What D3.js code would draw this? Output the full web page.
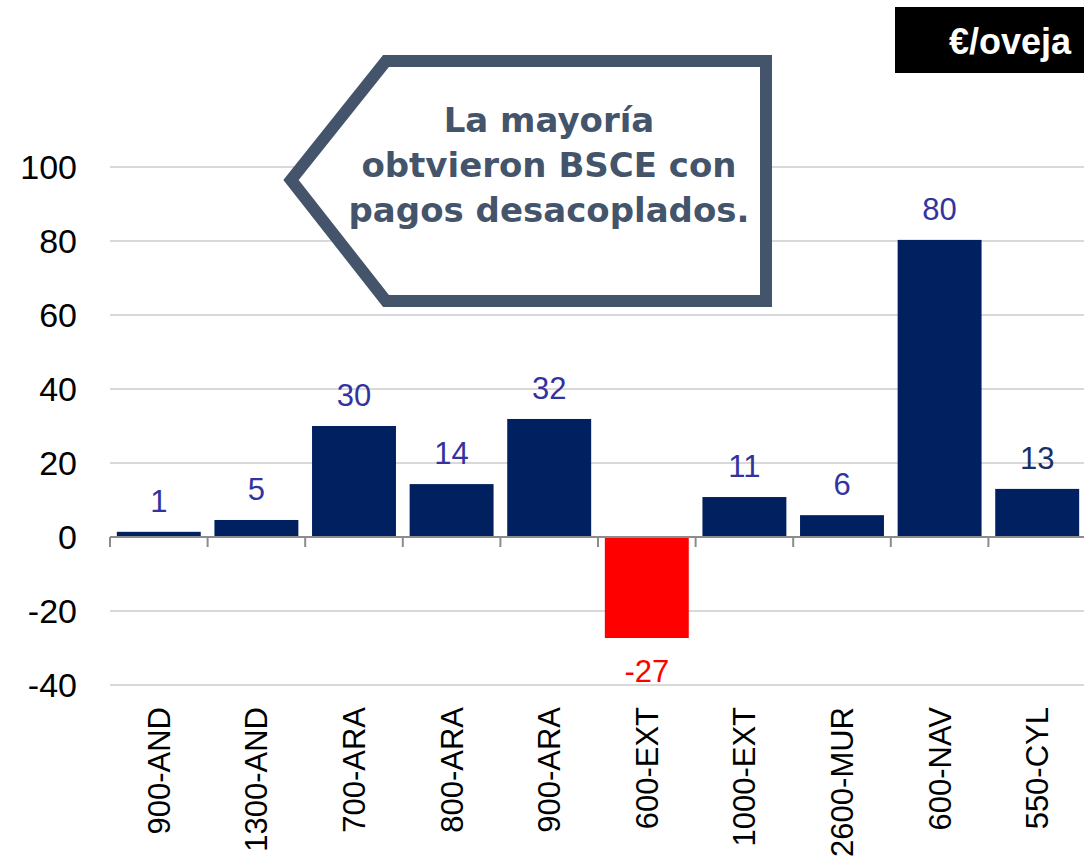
<!DOCTYPE html>
<html lang="es">
<head>
<meta charset="utf-8">
<title>€/oveja</title>
<style>
	body { margin: 0; background: #fff; font-family: "Liberation Sans", Arial, sans-serif; }
	svg { display: block; }
	.grid line { stroke: #d9d9d9; stroke-width: 2px; }
	.ytick text { font-size: 34px; fill: #000; }
	.xlab { font-size: 31px; fill: #000; }
	.val { font-size: 31px; }
</style>
</head>
<body>
<svg></svg>
<script src="https://d3js.org/d3.v7.min.js"></script>
<script>
	// data
	var categories = ["900-AND", "1300-AND", "700-ARA", "800-ARA", "900-ARA", "600-EXT", "1000-EXT", "2600-MUR", "600-NAV", "550-CYL"];
	var values = [1.4, 4.6, 30, 14.3, 31.9, -27.3, 10.8, 5.9, 80.3, 13];
	var yTicks = [-40, -20, 0, 20, 40, 60, 80, 100];
	var unitLabel = "€/oveja";
	var calloutLines = ["La mayoría", "obtvieron BSCE con", "pagos desacoplados."];

	var width = 1084, height = 859;

	var svg = d3.select("svg")
		.attr("width", width)
		.attr("height", height);

	var x = d3.scaleBand()
		.domain(categories)
		.range([110, 1086])
		.paddingInner(0.14)
		.paddingOuter(0.07);

	var y = d3.scaleLinear()
		.domain([-40, 100])
		.range([685, 167]);

	// gridlines
	svg.append("g")
		.attr("class", "grid")
		.selectAll("line")
		.data(yTicks.filter(function(d) { return d !== 0; }))
		.enter().append("line")
		.attr("x1", 110)
		.attr("x2", width)
		.attr("y1", function(d) { return y(d); })
		.attr("y2", function(d) { return y(d); });

	// y tick labels
	svg.append("g")
		.attr("class", "ytick")
		.selectAll("text")
		.data(yTicks)
		.enter().append("text")
		.attr("x", 77)
		.attr("y", function(d) { return y(d); })
		.attr("dy", "0.35em")
		.attr("text-anchor", "end")
		.text(function(d) { return d; });

	// bars
	svg.append("g")
		.selectAll("rect")
		.data(values)
		.enter().append("rect")
		.attr("x", function(d, i) { return x(categories[i]); })
		.attr("width", x.bandwidth())
		.attr("y", function(d) { return y(Math.max(0, d)); })
		.attr("height", function(d) { return Math.abs(y(d) - y(0)); })
		.attr("fill", function(d) { return d < 0 ? "#ff0000" : "#002060"; });

	// zero axis with ticks between categories
	var step = x.step();
	var x0 = 110;
	var axis = svg.append("g").attr("stroke", "#8c8c8c").attr("stroke-width", 2);
	axis.append("line")
		.attr("x1", x0).attr("x2", width)
		.attr("y1", y(0)).attr("y2", y(0));
	axis.selectAll("line.tk")
		.data(d3.range(categories.length + 1))
		.enter().append("line")
		.attr("class", "tk")
		.attr("x1", function(i) { return x0 + i * step; })
		.attr("x2", function(i) { return x0 + i * step; })
		.attr("y1", y(0))
		.attr("y2", y(0) + 10);

	// value labels (plain hyphen for negatives, like the original)
	svg.append("g")
		.selectAll("text")
		.data(values)
		.enter().append("text")
		.attr("class", "val")
		.attr("x", function(d, i) { return x(categories[i]) + x.bandwidth() / 2; })
		.attr("y", function(d) { return d < 0 ? y(d) + 44 : y(d) - 20; })
		.attr("text-anchor", "middle")
		.attr("fill", function(d, i) {
			if (d < 0) return "#ff0000";
			if (i === categories.length - 1) return "#1b2f66";
			return "#3333a0";
		})
		.text(function(d) { return String(Math.round(d)); });

	// category labels, rotated
	svg.append("g")
		.selectAll("text")
		.data(categories)
		.enter().append("text")
		.attr("class", "xlab")
		.attr("transform", function(d) {
			return "translate(" + (x(d) + x.bandwidth() / 2 + 11) + ",707) rotate(-90)";
		})
		.attr("text-anchor", "end")
		.text(function(d) { return d; });

	// unit box
	svg.append("rect")
		.attr("x", 895).attr("y", 7)
		.attr("width", width - 895).attr("height", 66)
		.attr("fill", "#000");
	svg.append("text")
		.attr("x", 1071).attr("y", 54)
		.attr("text-anchor", "end")
		.attr("fill", "#fff")
		.style("font-size", "36px")
		.style("font-weight", "bold")
		.text(unitLabel);

	// callout arrow box
	svg.append("path")
		.attr("d", "M291,180 L386,61 L766,61 L766,301 L386,301 Z")
		.attr("fill", "#fff")
		.attr("stroke", "#44546a")
		.attr("stroke-width", 12)
		.attr("stroke-linejoin", "miter");

	svg.append("g")
		.selectAll("text")
		.data(calloutLines)
		.enter().append("text")
		.attr("x", 549)
		.attr("y", function(d, i) { return 132 + i * 45; })
		.attr("text-anchor", "middle")
		.attr("fill", "#44546a")
		.style("font-family", "'DejaVu Sans', sans-serif")
		.style("font-weight", "bold")
		.style("font-size", "34px")
		.text(function(d) { return d; });
</script>
</body>
</html>
